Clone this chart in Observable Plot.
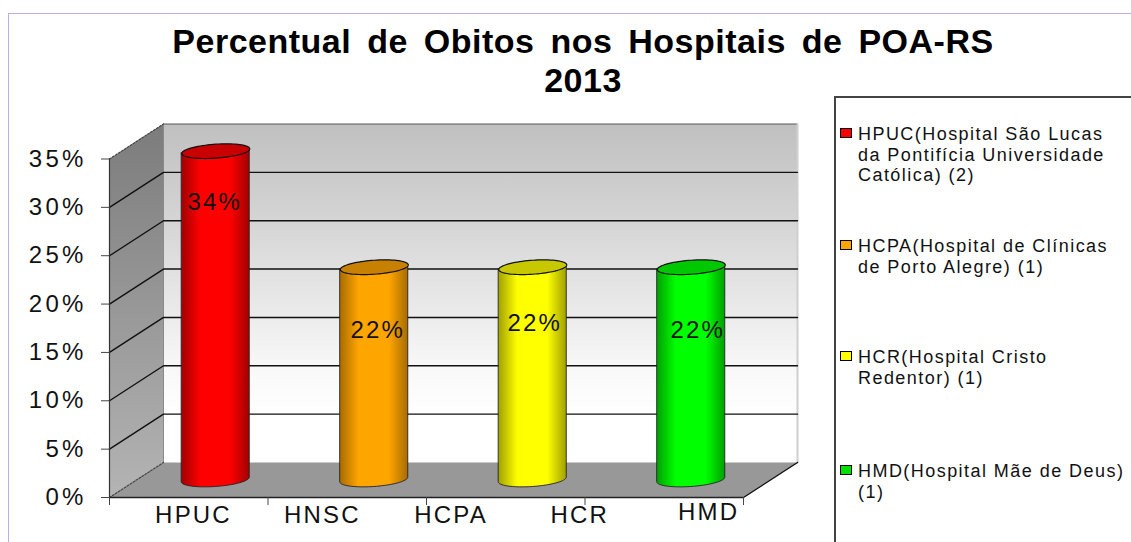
<!DOCTYPE html>
<html lang="pt">
<head>
<meta charset="utf-8">
<script src="https://cdn.jsdelivr.net/npm/d3@7"></script>
<script src="https://cdn.jsdelivr.net/npm/@observablehq/plot@0.6"></script>
<style>
html,body{margin:0;padding:0;background:#fff}
#page{position:relative;width:1131px;height:542px;overflow:hidden;font-family:"Liberation Sans",Arial,sans-serif;color:#000}
#page svg{position:absolute;left:0;top:0;background:transparent}
#frame{position:absolute;left:8px;top:13px;right:-5px;bottom:-5px;border:1px solid #c9a8ea;border-width:1px 0 0 1px}
#title{position:absolute;left:8px;width:1150px;top:22px;text-align:center;font-weight:700;font-size:34px;line-height:39px;letter-spacing:.5px;word-spacing:6px;z-index:2}
#legend{position:absolute;left:834px;top:96px;width:310px;height:460px;border:1px solid #444;border-width:2px 0 0 2px;font-size:18px;line-height:20.5px;letter-spacing:1.45px;color:#111}
.item{position:absolute;left:22px;width:285px;white-space:pre}
.sw{position:absolute;left:-18px;top:4px;width:10px;height:8px;border:1.5px solid #000}
.big text,text.big{letter-spacing:2.2px}
.bigY text{letter-spacing:3.2px}
</style>
</head>
<body>
<div id="page">
  <div id="frame"></div>
  <div id="title">Percentual de Obitos nos Hospitais de POA-RS<br>2013</div>
  <div id="chart"></div>
  <div id="legend"></div>
</div>
<script>
// ---- data ----
const barCategories = ["HPUC", "HCPA", "HCR", "HMD"];
const barValues = [34, 22, 22, 22];
const axisLabels = ["HPUC", "HNSC", "HCPA", "HCR", "HMD"];
const yTicks = [0, 5, 10, 15, 20, 25, 30, 35];
const legendLabels = [
  "HPUC(Hospital São Lucas\nda Pontifícia Universidade\nCatólica) (2)",
  "HCPA(Hospital de Clínicas\nde Porto Alegre) (1)",
  "HCR(Hospital Cristo\nRedentor) (1)",
  "HMD(Hospital Mãe de Deus)\n(1)"
];

// ---- styles and layout, apart from the data ----
const barColors = ["#ff0000", "#ffa500", "#ffff00", "#00ff00"];
const edgeColors = ["#a00000", "#a86c00", "#a0a000", "#00a000"];
const capColors = ["#c80000", "#c88000", "#c8c800", "#00c800"];
const legendSwatches = ["#ff0000", "#ffa500", "#ffff00", "#00e000"];
const legendTops = [26, 138, 249, 363];
const labelShift = [[-1, 51], [3.5, 63], [2, 56], [6.5, 63]];
const axisLabelDy = [18, 18, 18, 18, 15];

const W = 1131, H = 542;
const ml = 109, mr = W - 743, mt = 158.5, mb = H - 497;
const pxX = (743 - 109) / 4;            // pixels per category
const pxY = (497 - 158.5) / 35;         // pixels per percentage point
const depthX = 54 / pxX, depthY = 35 / pxY;   // oblique depth, in scale units
const xMax = barCategories.length, yMax = 35;

// a point of the plot at depth z (0 = front, 1 = back)
const P = (c, v, z) => ({x: c + z * depthX, y: v + z * depthY});
const poly = (pts, o) => Plot.line(pts, {x: "x", y: "y", curve: "linear", ...o});

// cylinder geometry
const rx = 34 / pxX, ry = 7 / pxY, tilt = 2.3 / pxY;
const ang = d3.range(0, 41).map(k => k / 40 * Math.PI);
const ellPt = (i, v, t) => {
  const c = P(i + .5, v, .5);
  return {x: c.x + rx * Math.cos(t), y: c.y + tilt * Math.cos(t) - ry * Math.sin(t)};
};

const defs = () => {
  const d = d3.create("svg:defs");
  const grad = (id, stops, horiz) => {
    const g = d.append("linearGradient").attr("id", id)
      .attr("x1", 0).attr("y1", 0).attr("x2", horiz ? 1 : 0).attr("y2", horiz ? 0 : 1);
    stops.forEach(([o, c]) => g.append("stop").attr("offset", o).attr("stop-color", c));
  };
  grad("backWall", [[0, "#c0c0c0"], [.25, "#d2d2d2"], [.5, "#e6e6e6"], [.72, "#f8f8f8"], [.86, "#ffffff"], [1, "#ffffff"]]);
  grad("sideWall", [[0, "#7c7c7c"], [1, "#b4b4b4"]]);
  barColors.forEach((c, i) => grad("cyl" + i,
    [[0, edgeColors[i]], [.28, c], [.72, c], [1, edgeColors[i]]], true));
  return d.node();
};

const gridLines = yTicks.slice(1, -1);

const chart = Plot.plot({
  width: W, height: H,
  marginLeft: ml, marginRight: mr, marginTop: mt, marginBottom: mb,
  x: {domain: [0, xMax], label: null},
  y: {domain: [0, yMax], label: null},
  style: {fontFamily: '"Liberation Sans",Arial,sans-serif', background: "transparent", overflow: "visible"},
  marks: [
    defs,
    // back wall, side wall, floor
    poly([P(0,0,1), P(xMax,0,1), P(xMax,yMax,1), P(0,yMax,1), P(0,0,1)], {fill: "url(#backWall)", stroke: "none"}),
    poly([P(0,0,0), P(0,0,1), P(0,yMax,1), P(0,yMax,0), P(0,0,0)], {fill: "url(#sideWall)", stroke: "none"}),
    poly([P(0,0,0), P(xMax,0,0), P(xMax,0,1), P(0,0,1), P(0,0,0)], {fill: "#989898", stroke: "none"}),
    // wall edges
    poly([P(0,yMax,1), P(xMax,yMax,1)], {stroke: "#555", strokeWidth: 1.2}),
    poly([P(xMax,0,1), P(xMax,yMax,1)], {stroke: "#cfcfcf", strokeWidth: 2}),
    poly([P(0,0,1), P(0,yMax,1)], {stroke: "#8a8a8a", strokeWidth: 1}),
    poly([P(0,yMax,0), P(0,yMax,1)], {stroke: "#444", strokeWidth: 1.2, strokeDasharray: "2,1.5"}),
    poly([P(0,0,0), P(0,0,1)], {stroke: "#444", strokeWidth: 1.2, strokeDasharray: "2,1.5"}),
    // grid on both walls
    ...gridLines.map(v => poly([P(0,v,0), P(0,v,1), P(xMax,v,1)], {stroke: "#111", strokeWidth: 1.4})),
    // floor edges and axes
    poly([P(xMax,0,0), P(xMax,0,1)], {stroke: "#111", strokeWidth: 1.4}),
    Plot.ruleX([0], {stroke: "#333", strokeWidth: 1.2}),
    Plot.ruleY([0], {stroke: "#222", strokeWidth: 1.4}),
    Plot.axisY({ticks: yTicks, tickFormat: d => d + "%", tickSize: 8, tickPadding: 15, fontSize: 24, label: null, stroke: "#444", fill: "#111", className: "bigY"}),
    Plot.axisX({ticks: d3.range(xMax + 1), tickFormat: () => "", tickSize: 8, label: null, stroke: "#444"}),
    // cylinders
    ...barValues.flatMap((v, i) => {
      const body = ang.slice().reverse().map(t => {
        const b = ellPt(i, 0, t), a = ellPt(i, v, t);
        return {x: a.x, y1: b.y, y2: a.y};
      });
      const cap = d3.range(0, 81).map(k => ellPt(i, v, k / 80 * 2 * Math.PI));
      return [
        Plot.areaY(body, {x: "x", y1: "y1", y2: "y2", curve: "linear", fill: `url(#cyl${i})`, stroke: "#222", strokeWidth: .9}),
        poly(cap, {fill: capColors[i], stroke: "#111", strokeWidth: 1.2})
      ];
    }),
    // value labels
    ...barValues.map((v, i) => Plot.text([v + "%"], {
      text: d => d, x: P(i + .5, v, .5).x, y: P(i + .5, v, .5).y,
      dx: labelShift[i][0], dy: labelShift[i][1], fontSize: 24, fill: "#111", className: "big"
    })),
    // category labels
    ...axisLabels.map((c, i) => Plot.text([c], {
      text: d => d, x: .53 + i * .8125, y: 0, dy: axisLabelDy[i], fontSize: 24, fill: "#111", className: "big"
    }))
  ]
});
document.getElementById("chart").append(chart);

// legend
const legend = d3.select("#legend");
legendLabels.forEach((t, i) => {
  const it = legend.append("div").attr("class", "item").style("top", legendTops[i] + "px").text(t);
  it.append("span").attr("class", "sw").style("background", legendSwatches[i]);
});
</script>
</body>
</html>
